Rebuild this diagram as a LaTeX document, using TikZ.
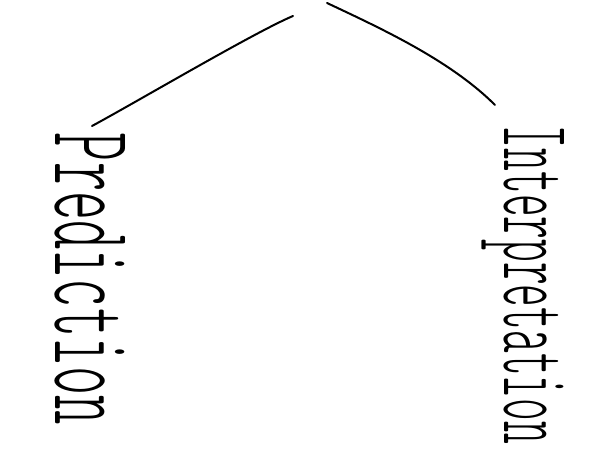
\documentclass[tikz,border=0pt]{standalone}
\usepackage{graphicx}
\begin{document}
\begin{tikzpicture}[x=1bp,y=1bp,
  stroke/.style={line width=2bp, line cap=round, black},
  word/.style={rotate=-90, inner sep=0pt, outer sep=0pt, anchor=base west,
    font=\ttfamily\fontseries{l}\selectfont}]
\useasboundingbox (0,0) rectangle (590,-466);
\coordinate (la) at (293,-16);
\coordinate (lb) at (92,-126);
\coordinate (ra) at (327,-3);
\coordinate (rb) at (495,-105);
\draw[stroke] (la) .. controls (255,-32) and (140,-100) .. (lb);
\draw[stroke] (ra) .. controls (380,-28) and (450,-60) .. (rb);
\node[word] (pred) at (55,-133) {\resizebox{292bp}{70bp}{Prediction}};
\node[word] (interp) at (504,-126) {\resizebox{318bp}{60bp}{Interpretation}};
\end{tikzpicture}
\end{document}
